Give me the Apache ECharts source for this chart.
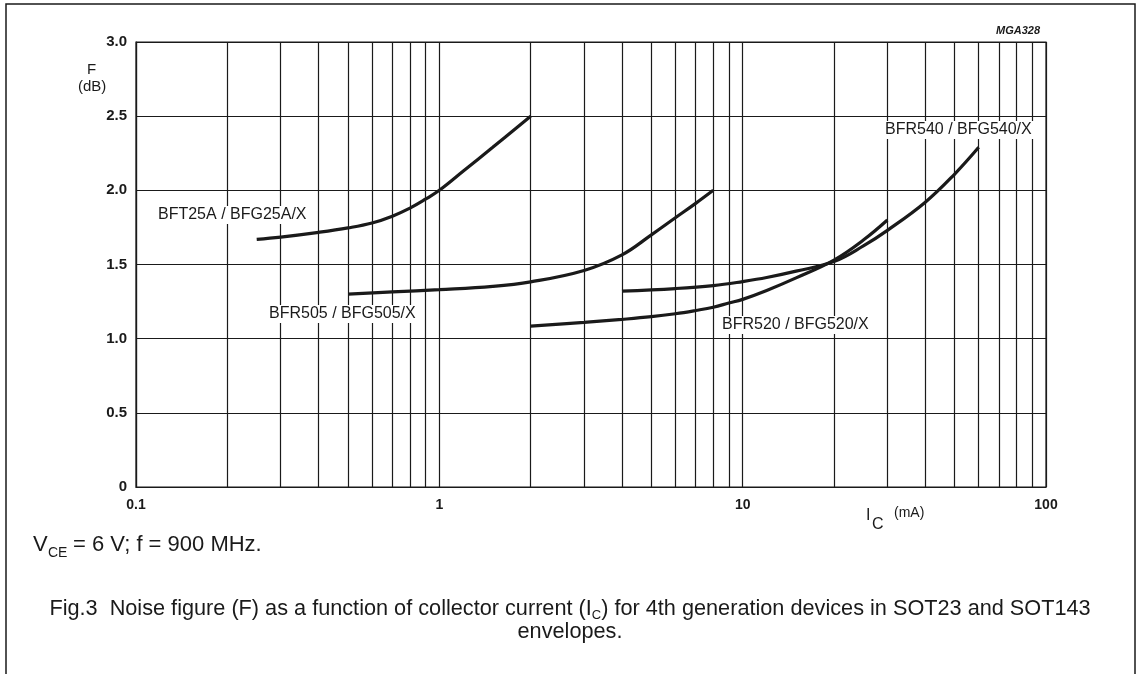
<!DOCTYPE html>
<html lang="en">
<head>
    <meta charset="UTF-8">
    <title>Noise figure vs collector current</title>
    <script src="https://cdn.jsdelivr.net/npm/echarts/dist/echarts.min.js"></script>
    <style>
        html, body { margin: 0; padding: 0; background: #fff; }
        #chart { width: 1140px; height: 674px; }
    </style>
</head>
<body>
<div id="chart"></div>
<script>
// collector current Ic (mA) and noise figure F (dB)
const bft25aIc = [0.25, 0.3, 0.4, 0.5, 0.6, 0.7, 0.8, 0.9, 1, 1.2, 1.5, 2];
const bft25aF  = [1.67, 1.685, 1.717, 1.747, 1.78, 1.826, 1.88, 1.94, 2.0, 2.13, 2.29, 2.5];

const bfr505Ic = [0.5, 0.7, 1, 1.5, 2, 3, 4, 5, 6, 7, 8];
const bfr505F  = [1.30, 1.315, 1.33, 1.352, 1.383, 1.46, 1.565, 1.70, 1.815, 1.912, 2.0];

const bfr520Ic = [2, 3, 4, 5, 6, 7, 8, 9, 10, 12, 15, 20, 25, 30];
const bfr520F  = [1.085, 1.11, 1.13, 1.148, 1.168, 1.19, 1.212, 1.24, 1.265, 1.325, 1.41, 1.53, 1.665, 1.80];

const bfr540Ic = [4, 6, 8, 10, 12, 15, 20, 25, 30, 40, 50, 60];
const bfr540F  = [1.32, 1.338, 1.358, 1.385, 1.412, 1.455, 1.52, 1.625, 1.73, 1.92, 2.11, 2.29];

// log paper minor lines (2..9 in every decade)
const minorX = [0.2, 0.3, 0.4, 0.5, 0.6, 0.7, 0.8, 0.9,
                2, 3, 4, 5, 6, 7, 8, 9,
                20, 30, 40, 50, 60, 70, 80, 90];

const FONT = 'Liberation Sans, Arial, sans-serif';
const INK = '#1a1a1a';

function zip(xs, ys) {
    return xs.map((x, i) => [x, ys[i]]);
}

function curve(name, xs, ys) {
    return {
        name: name,
        type: 'line',
        data: zip(xs, ys),
        smooth: 0.4,
        showSymbol: false,
        symbol: 'none',
        lineStyle: { color: INK, width: 3.2 },
        z: 5
    };
}

function lbl(text, x, y) {
    return {
        type: 'text',
        left: x, top: y,
        z: 50,
        style: {
            text: text,
            font: '16px ' + FONT,
            fill: INK,
            backgroundColor: '#fff',
            padding: [1, 3]
        }
    };
}

function txt(text, x, y, font, extra) {
    return Object.assign({
        type: 'text',
        left: x, top: y,
        z: 50,
        style: { text: text, font: font, fill: INK }
    }, extra || {});
}

var mychart = echarts.init(document.getElementById('chart'), null, { renderer: 'canvas' });

var option = {
    backgroundColor: '#fff',
    animation: false,
    grid: {
        left: 136, right: 94, top: 42, bottom: 187,
        show: true,
        borderColor: INK,
        borderWidth: 1.2
    },
    xAxis: {
        type: 'log',
        logBase: 10,
        min: 0.1,
        max: 100,
        splitNumber: 3,
        axisLine: { show: true, lineStyle: { color: INK, width: 1.2 } },
        axisTick: { show: false },
        axisLabel: {
            color: INK,
            fontFamily: FONT,
            fontSize: 14,
            fontWeight: 'bold',
            margin: 11,
            formatter: v => String(Number(v.toPrecision(3)))
        },
        splitLine: { show: true, lineStyle: { color: INK, width: 1.2 } }
    },
    yAxis: {
        type: 'value',
        min: 0,
        max: 3,
        interval: 0.5,
        axisLine: { show: true, lineStyle: { color: INK, width: 1.2 } },
        axisTick: { show: false },
        axisLabel: {
            color: INK,
            fontFamily: FONT,
            fontSize: 15,
            fontWeight: 'bold',
            margin: 9,
            formatter: v => v === 0 ? '0' : v.toFixed(1)
        },
        splitLine: { show: true, lineStyle: { color: INK, width: 1.2 } }
    },
    series: [
        {
            name: 'grid',
            type: 'line',
            data: [],
            silent: true,
            markLine: {
                silent: true,
                symbol: 'none',
                label: { show: false },
                lineStyle: { color: INK, width: 1.2, type: 'solid' },
                data: minorX.map(v => ({ xAxis: v }))
            },
            z: 1
        },
        curve('BFT25A / BFG25A/X', bft25aIc, bft25aF),
        curve('BFR505 / BFG505/X', bfr505Ic, bfr505F),
        curve('BFR520 / BFG520/X', bfr520Ic, bfr520F),
        curve('BFR540 / BFG540/X', bfr540Ic, bfr540F)
    ],
    graphic: [
        // outer frame of the figure
        {
            type: 'rect', z: 0,
            shape: { x: 6, y: 4, width: 1129, height: 720 },
            style: { fill: 'none', stroke: INK, lineWidth: 1.5 }
        },
        txt('MGA328', 996, 25, 'italic bold 11px ' + FONT),
        txt('F', 87, 62, '15px ' + FONT),
        txt('(dB)', 78, 79, '15px ' + FONT),

        lbl('BFT25A / BFG25A/X', 155, 206),
        lbl('BFR505 / BFG505/X', 266, 305),
        lbl('BFR520 / BFG520/X', 719, 316),
        lbl('BFR540 / BFG540/X', 882, 121),

        // x axis title: I_C (mA)
        txt('I', 866, 508, '16px ' + FONT),
        txt('C', 872, 517, '16px ' + FONT),
        txt('(mA)', 894, 506, '14px ' + FONT),

        // test conditions
        txt('V', 33, 534, '22px ' + FONT),
        txt('CE', 48, 546, '14px ' + FONT),
        txt('= 6 V; f = 900 MHz.', 73, 534, '22px ' + FONT),

        // caption
        {
            type: 'text', z: 50,
            left: 'center', top: 598,
            style: {
                text: '{a|Fig.3  Noise figure (F) as a function of collector current (I}{s|C}{a|) for 4th generation devices in SOT23 and SOT143}',
                rich: {
                    a: { font: '21.7px ' + FONT, fill: INK },
                    s: { font: '13px ' + FONT, fill: INK, padding: [12, 0, 0, 0] }
                }
            }
        },
        {
            type: 'text', z: 50,
            left: 'center', top: 621,
            style: { text: 'envelopes.', font: '21.7px ' + FONT, fill: INK }
        }
    ]
};

mychart.setOption(option);
</script>
</body>
</html>
